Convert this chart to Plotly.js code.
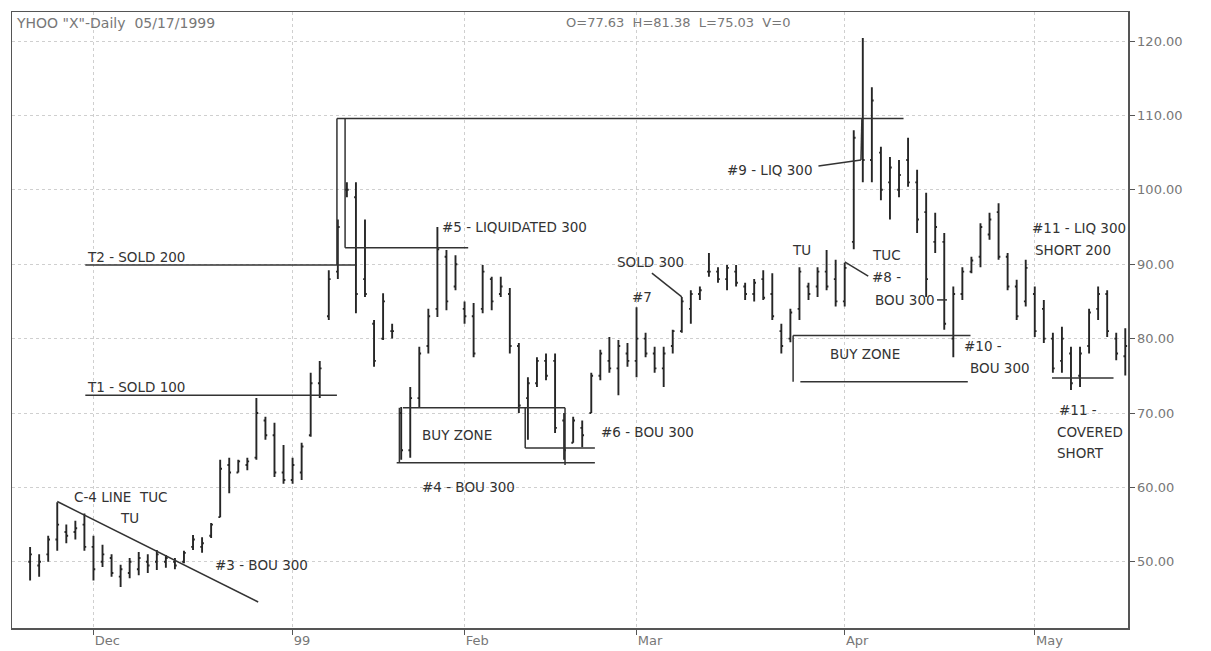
<!DOCTYPE html>
<html><head><meta charset="utf-8">
<script src="https://cdn.plot.ly/plotly-3.0.1.min.js"></script>
<style>html,body{margin:0;padding:0;background:#fff}#chart{width:1211px;height:651px}</style>
</head><body><div id="chart"></div><script>
const dates = ["1998-11-19","1998-11-20","1998-11-23","1998-11-24","1998-11-25","1998-11-27","1998-11-30",
"1998-12-01","1998-12-02","1998-12-03","1998-12-04","1998-12-07","1998-12-08","1998-12-09","1998-12-10","1998-12-11",
"1998-12-14","1998-12-15","1998-12-16","1998-12-17","1998-12-18","1998-12-21","1998-12-22","1998-12-23","1998-12-24",
"1998-12-28","1998-12-29","1998-12-30","1998-12-31",
"1999-01-04","1999-01-05","1999-01-06","1999-01-07","1999-01-08","1999-01-11","1999-01-12","1999-01-13","1999-01-14",
"1999-01-15","1999-01-19","1999-01-20","1999-01-21","1999-01-22","1999-01-25","1999-01-26","1999-01-27","1999-01-28","1999-01-29",
"1999-02-01","1999-02-02","1999-02-03","1999-02-04","1999-02-05","1999-02-08","1999-02-09","1999-02-10","1999-02-11","1999-02-12",
"1999-02-16","1999-02-17","1999-02-18","1999-02-19","1999-02-22","1999-02-23","1999-02-24","1999-02-25","1999-02-26",
"1999-03-01","1999-03-02","1999-03-03","1999-03-04","1999-03-05","1999-03-08","1999-03-09","1999-03-10","1999-03-11","1999-03-12",
"1999-03-15","1999-03-16","1999-03-17","1999-03-18","1999-03-19","1999-03-22","1999-03-23","1999-03-24","1999-03-25","1999-03-26",
"1999-03-29","1999-03-30","1999-03-31",
"1999-04-01","1999-04-05","1999-04-06","1999-04-07","1999-04-08","1999-04-09","1999-04-12","1999-04-13","1999-04-14","1999-04-15",
"1999-04-16","1999-04-19","1999-04-20","1999-04-21","1999-04-22","1999-04-23","1999-04-26","1999-04-27","1999-04-28","1999-04-29","1999-04-30",
"1999-05-03","1999-05-04","1999-05-05","1999-05-06","1999-05-07","1999-05-10","1999-05-11","1999-05-12","1999-05-13","1999-05-14","1999-05-17"];

const opens = [50,49.5,51,53,54,54,55, 52,50,50.5,48,48.5,49,50,50,50,50,50,52,52,53.5,56,63,62,63,64,69,67,62,
61,62,67,74,83,89,100,99,88,82,80,81,70,65,72,79,84,91,87,
84,83,84,88,86,86,79,72,74,77,77,69,66,68,70,75,77,76,78,
77,80,78,76,79,81,84,86,89,89,88,89,87,86,88,86,81,80,84,87,87,89,88,
85,93,108,104,105,101,100,104,101,97,93,93,80,86,89,91,94,97,91,87,85,
86,84,80,77,78,75,79,84,86,80,77.63];
const highs = [52,51,53.5,58,55,55.5,56.5, 53.5,52.3,51,49.6,50.5,51.3,51,51.6,50.9,50.5,51.5,53.6,53.3,55.2,63.7,64,63.7,64,72,69.5,68.7,65.7,
64,66,75.4,77,89.2,96,101,101,96,82.5,86.1,82,70.8,73.5,78.9,84,95,91.9,91.2,
85,84.8,89.9,88.3,88.3,86.8,79.4,74.8,77.5,78,78,70,69.5,69,75.4,78.5,80.2,79.8,79.4,
84.2,80.8,78.9,78.9,81.2,85.6,86.5,87,91.5,89.6,89.9,89.9,87.5,88,89.2,88.8,82,84,89.6,87.5,89.6,91.9,90.6,
90.2,108,120.4,113.8,105.8,104.4,104,107,102.7,99.6,96.9,94.2,87,89.6,91,95.5,96.9,98.2,91.5,87.9,90.6,
87,85.2,80.8,81.6,78.9,78.9,84,87,86.5,80.8,81.38];
const lows = [47.5,48,50,51.5,52.5,53,51.5, 47.5,49.3,48,46.6,47.8,48.2,48.5,48.9,49.2,49,49.8,51.6,51.2,53.2,56,59.2,62,62.3,63.7,66.4,61.4,60.5,
60.5,61,66.8,72,82.5,88,99,83.4,85.6,76.2,79.8,80,63.7,64,70.8,78,82.9,83.8,86.5,
82,77.5,83.4,83.8,85.6,78,70,66.4,73.5,74.4,67.3,63.7,66,65.4,70,74.4,75.4,72.4,76.2,
74.8,77.5,75.4,73.5,78,80.8,82,85.2,88.3,87.5,86.5,87,85.2,85,85.2,82.5,78,79.5,82.5,85.2,85.6,86.5,84.3,
84.3,92,101,101,98.6,96,99,100.4,94.2,85.6,91.5,81.2,77.5,85.2,88.8,89.6,93.3,90.6,86.5,82.5,84.3,
80.2,79.4,75.4,75.4,73.1,73.5,78,82.5,80.2,77.1,75.03];
const closes = [51,50,53,55,53.5,54.5,52, 49,51,48.5,49,50,50.5,49.5,51,50.5,49.5,51.2,53,52.5,55,62.5,62,63.5,63.5,70,67,62,61,
63,65.5,74,76,88,95,100,86,86,77,85,81,65,72,78,83,92,85,90,
83,78,89,85,87,79,71,74,77,75,68,65,69,67,75,78,76,79,77,
80,78,76,78,81,85,86,86.5,89,88,89.5,87.5,86,87.5,85.5,83,79,83.5,89,86,89,87,85,
89.5,107,104,112,100,103,102,101,96,88,95,82,86,89,90.5,95,96,91,87,83,89.5,
81,80,76,80,74,78,83.5,86,81,78,79];

// Month tick positions (first trading day) and their labels
const tickDates = ["1998-12-01","1999-01-04","1999-02-01","1999-03-01","1999-04-01","1999-05-03"];
const tickLabels = ["Dec","99","Feb","Mar","Apr","May"];
const priceTicks = [50,60,70,80,90,100,110,120];

// Hand-drawn analysis lines: [x0 (trading-day position), price0, x1, price1]
const drawnLines = [
  [6.1,89.9,36.1,89.9],      // T2 line
  [33.9,89.9,33.9,109.6],    // connector up
  [33.9,109.6,96.5,109.6],   // 110 line
  [34.8,109.6,34.8,92.2],
  [34.8,92.2,48.4,92.2],     // #5 line
  [6.1,72.4,33.9,72.4],      // T1 line
  [3.0,58.1,25.2,44.6],      // C-4 line
  [41.2,70.7,59.1,70.7],     // buy zone 1 top
  [40.8,70.7,40.8,63.3],
  [40.5,63.3,62.4,63.3],
  [54.7,70.7,54.7,65.3],
  [54.7,65.3,62.4,65.3],
  [59.1,70.7,59.1,63.0],
  [68.7,88.8,72.0,85.6],     // SOLD 300 pointer
  [87.1,103.2,91.8,104.0],   // #9 connector
  [91.8,104.0,91.9,109.6],
  [90.0,90.3,92.6,88.4],     // #8 pointer
  [100.2,85.2,101.3,85.2],
  [84.3,80.4,103.9,80.4],    // buy zone 2
  [84.3,80.4,84.3,74.2],
  [85.1,74.2,103.6,74.2],
  [112.9,74.7,119.7,74.7]    // #11 line
];

// Text notes: [text, x position, price]
const notes = [
  ["T2 - SOLD 200",6.1,91.0],
  ["T1 - SOLD 100",6.1,73.5],
  ["C-4 LINE  TUC",4.6,58.7],
  ["TU",9.7,55.9],
  ["#3 - BOU 300",20.2,49.6],
  ["#5 - LIQUIDATED 300",45.3,95.0],
  ["BUY ZONE",43.1,67.1],
  ["#4 - BOU 300",43.1,60.1],
  ["#6 - BOU 300",62.8,67.5],
  ["SOLD 300",64.6,90.3],
  ["#7",66.3,85.6],
  ["#9 - LIQ 300",76.8,102.7],
  ["TU",84.0,91.9],
  ["TUC",92.8,91.2],
  ["#8 -",92.8,88.3],
  ["BOU 300",93.1,85.2],
  ["BUY ZONE",88.2,77.9],
  ["#10 -",103.0,79.0],
  ["BOU 300",103.6,76.1],
  ["#11 - LIQ 300",110.5,94.9],
  ["SHORT 200",110.8,91.9],
  ["#11 -",113.5,70.4],
  ["COVERED",113.2,67.5],
  ["SHORT",113.2,64.6]
];

const ink = '#262626';
const fam = 'DejaVu Sans, Verdana, sans-serif';
const trace = {
  type:'ohlc', x:dates, open:opens, high:highs, low:lows, close:closes,
  increasing:{line:{color:ink,width:1.9}}, decreasing:{line:{color:ink,width:1.9}},
  tickwidth:0.2, hoverinfo:'skip', showlegend:false
};

const shapes = drawnLines.map(l => ({type:'line', xref:'x', yref:'y', x0:l[0], y0:l[1], x1:l[2], y1:l[3],
  line:{color:'#333', width:1.5}}));

const annotations = notes.map(n => ({text:n[0], x:n[1], y:n[2], xref:'x', yref:'y', xanchor:'left', yanchor:'middle',
  showarrow:false, font:{family:fam, size:13.5, color:'#333'}}));
annotations.push({text:'YHOO "X"-Daily  05/17/1999', xref:'paper', yref:'paper', x:0.002, y:0.998, xanchor:'left', yanchor:'top',
  showarrow:false, font:{family:fam, size:14, color:'#777'}});
annotations.push({text:'O=77.63  H=81.38  L=75.03  V=0', xref:'paper', yref:'paper', x:0.495, y:0.998, xanchor:'left', yanchor:'top',
  showarrow:false, font:{family:fam, size:13, color:'#777'}});

const layout = {
  width:1211, height:651,
  margin:{l:12, r:83, t:12, b:23},
  paper_bgcolor:'#fff', plot_bgcolor:'#fff',
  showlegend:false,
  xaxis:{type:'category', range:[-2,121.3], rangeslider:{visible:false},
    tickmode:'array', tickvals:tickDates, ticktext:tickLabels,
    ticks:'outside', ticklen:5, tickcolor:'#555', ticklabelposition:'outside right',
    showgrid:true, gridcolor:'#cfcfcf', griddash:'dot', gridwidth:1,
    showline:true, linecolor:'#555', linewidth:1.5, mirror:true, zeroline:false,
    tickfont:{family:fam, size:13, color:'#777'}},
  yaxis:{side:'right', range:[41.1,123.9], tickmode:'array', tickvals:priceTicks, tickformat:'.2f',
    ticks:'outside', ticklen:5, tickcolor:'#555',
    showgrid:true, gridcolor:'#cfcfcf', griddash:'dot', gridwidth:1,
    showline:true, linecolor:'#555', linewidth:1.5, mirror:true, zeroline:false,
    tickfont:{family:fam, size:13, color:'#777'}},
  shapes:shapes, annotations:annotations
};

Plotly.newPlot('chart',[trace],layout,{staticPlot:true});
</script></body></html>
